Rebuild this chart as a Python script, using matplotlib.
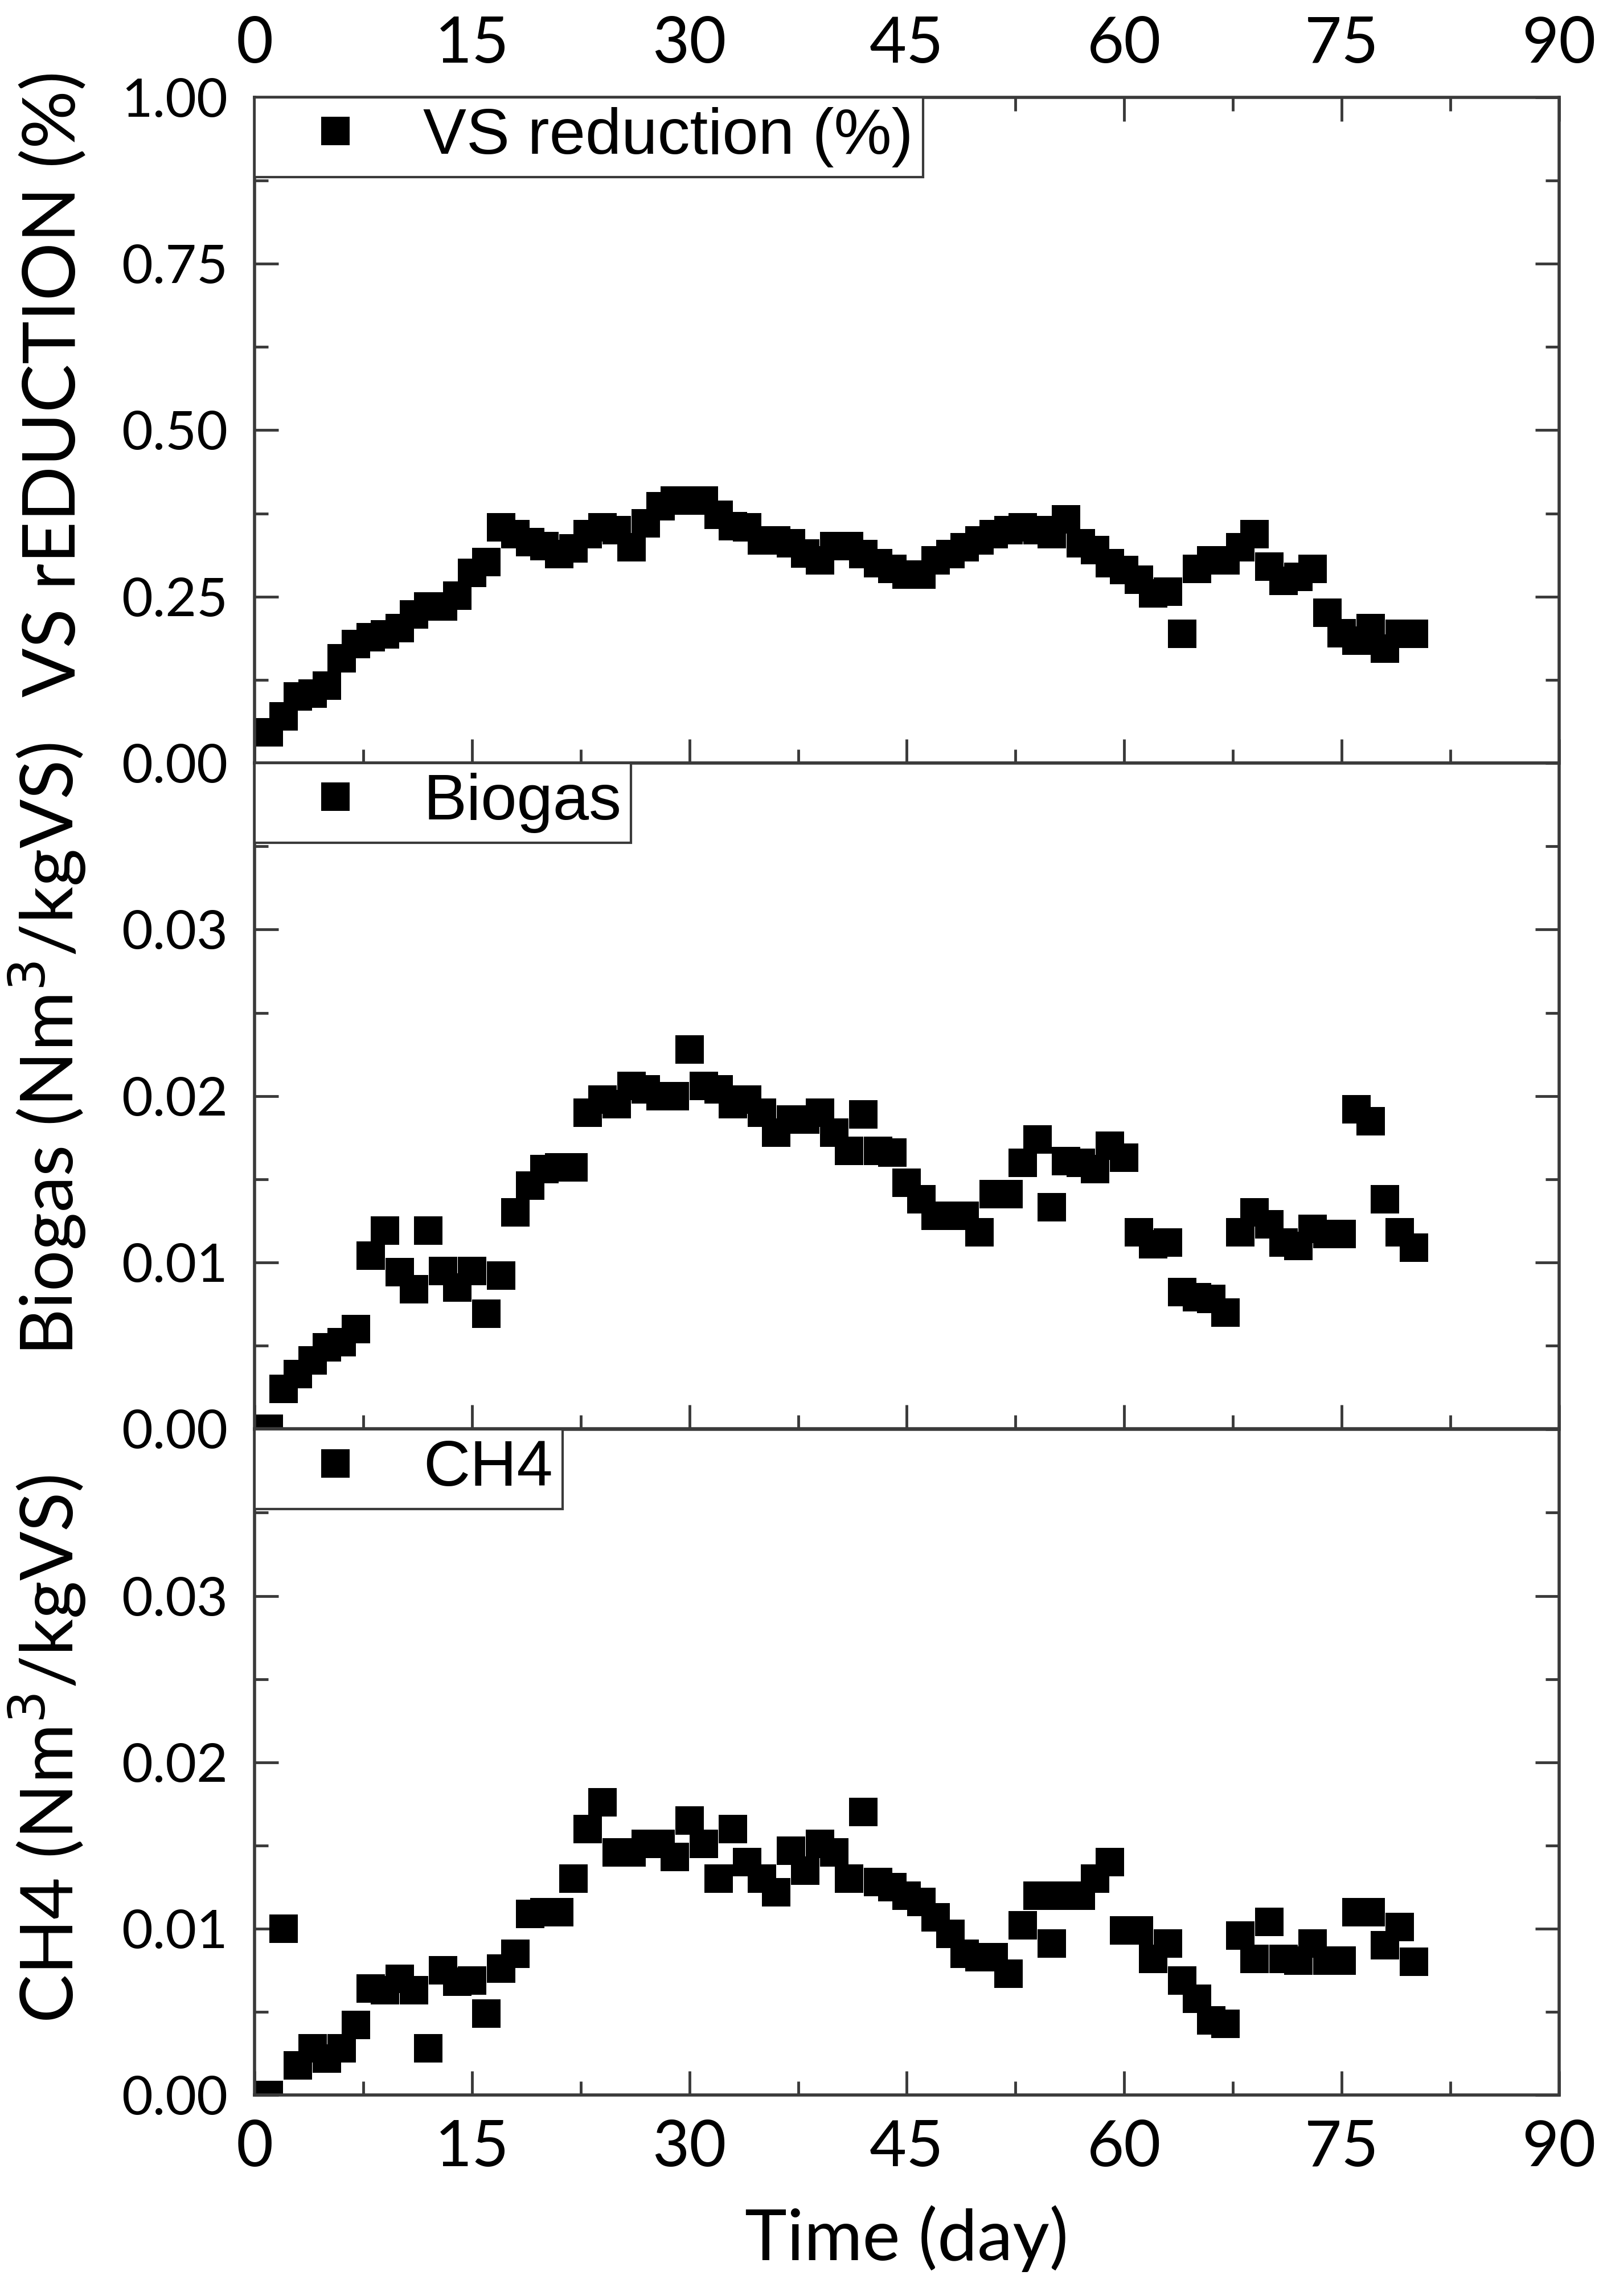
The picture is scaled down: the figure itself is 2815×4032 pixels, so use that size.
import numpy as np
import matplotlib
matplotlib.use("Agg")
import matplotlib.pyplot as plt
from matplotlib.ticker import MultipleLocator, FormatStrFormatter

# sampling days
days = list(range(1, 81))

# VS reduction (fraction)
vs_reduction = [0.046, 0.070, 0.100, 0.104, 0.116, 0.157, 0.179, 0.189, 0.193, 0.203,
                0.223, 0.235, 0.235, 0.251, 0.286, 0.302, 0.354, 0.344, 0.332, 0.326,
                0.314, 0.322, 0.344, 0.354, 0.350, 0.324, 0.360, 0.386, 0.394, 0.394,
                0.394, 0.373, 0.356, 0.354, 0.334, 0.334, 0.330, 0.315, 0.304, 0.326,
                0.326, 0.314, 0.300, 0.292, 0.283, 0.283, 0.304, 0.314, 0.324, 0.334,
                0.344, 0.350, 0.354, 0.350, 0.344, 0.366, 0.330, 0.320, 0.300, 0.290,
                0.275, 0.255, 0.257, 0.194, 0.292, 0.304, 0.304, 0.324, 0.344, 0.295,
                0.274, 0.280, 0.292, 0.226, 0.195, 0.184, 0.203, 0.172, 0.194, 0.194]

# biogas yield (Nm3/kgVS)
biogas = [0.0, 0.0024, 0.0033, 0.0041, 0.0049, 0.0052, 0.0060, 0.0104, 0.0119, 0.0094,
          0.0084, 0.0119, 0.0095, 0.0085, 0.0095, 0.0069, 0.0092, 0.0130, 0.0146, 0.0156,
          0.0157, 0.0157, 0.0190, 0.0198, 0.0195, 0.0206, 0.0204, 0.0200, 0.0200, 0.0228,
          0.0206, 0.0204, 0.0195, 0.0198, 0.0190, 0.0178, 0.0186, 0.0186, 0.0190, 0.0178,
          0.0167, 0.0189, 0.0167, 0.0166, 0.0148, 0.0138, 0.0128, 0.0128, 0.0128, 0.0118,
          0.0141, 0.0141, 0.0160, 0.0174, 0.0133, 0.0161, 0.0160, 0.0156, 0.0170, 0.0163,
          0.0118, 0.0111, 0.0112, 0.0082, 0.0079, 0.0078, 0.0070, 0.0118, 0.0130, 0.0123,
          0.0112, 0.0110, 0.0120, 0.0117, 0.0117, 0.0192, 0.0185, 0.0138, 0.0118, 0.0109]

# methane yield (Nm3/kgVS)
ch4 = [0.0, 0.0100, 0.0018, 0.0028, 0.0022, 0.0028, 0.0042, 0.0064, 0.0063, 0.0070,
       0.0063, 0.0028, 0.0075, 0.0068, 0.0069, 0.0049, 0.0076, 0.0085, 0.0109, 0.0110,
       0.0110, 0.0130, 0.0160, 0.0176, 0.0146, 0.0146, 0.0151, 0.0151, 0.0143, 0.0165,
       0.0151, 0.0130, 0.0160, 0.0140, 0.0130, 0.0122, 0.0147, 0.0135, 0.0151, 0.0146,
       0.0130, 0.0170, 0.0128, 0.0125, 0.0120, 0.0116, 0.0107, 0.0097, 0.0085, 0.0083,
       0.0083, 0.0073, 0.0102, 0.0120, 0.0091, 0.0120, 0.0120, 0.0130, 0.0140, 0.0099,
       0.0099, 0.0082, 0.0091, 0.0069, 0.0058, 0.0045, 0.0043, 0.0096, 0.0082, 0.0104,
       0.0082, 0.0081, 0.0091, 0.0081, 0.0081, 0.0110, 0.0110, 0.0090, 0.0101, 0.0080]

series = [vs_reduction, biogas, ch4]
legend_names = ['VS reduction (%)', 'Biogas', 'CH4']
y_labels = ['VS rEDUCTION (%)', 'Biogas (Nm$^3$/kgVS)', 'CH4 (Nm$^3$/kgVS)']
y_max = [1.0, 0.04, 0.04]
y_ticks = [[0.0, 0.25, 0.5, 0.75, 1.0],
           [0.0, 0.01, 0.02, 0.03],
           [0.0, 0.01, 0.02, 0.03]]
y_minor = [0.125, 0.005, 0.005]
label_y = [0.57, 0.57, 0.52]

tick_font = 'Lato'
spine_col = '#3a3a3a'

fig = plt.figure(figsize=(28.15, 40.32), dpi=100)
left, width = 0.1588, 0.8138
bottoms = [0.6677, 0.3777, 0.0875]
height = 0.2899

for i in range(3):
    ax = fig.add_axes([left, bottoms[i], width, height])
    ax.plot(days, series[i], 's', color='black', markersize=36,
            markeredgewidth=0, label=legend_names[i])
    ax.set_xlim(0, 90)
    ax.set_ylim(0, y_max[i])
    ax.xaxis.set_major_locator(MultipleLocator(15))
    ax.xaxis.set_minor_locator(MultipleLocator(7.5))
    ax.set_yticks(y_ticks[i])
    ax.yaxis.set_minor_locator(MultipleLocator(y_minor[i]))
    ax.yaxis.set_major_formatter(FormatStrFormatter('%.2f'))

    for s in ax.spines.values():
        s.set_color(spine_col)
        s.set_linewidth(4)

    ax.tick_params(which='both', direction='in', color=spine_col, width=3.5,
                   left=True, right=True, bottom=True, top=(i == 0),
                   labelleft=True, labelright=False,
                   labelbottom=(i == 2), labeltop=(i == 0))
    ax.tick_params(which='major', length=30)
    ax.tick_params(which='minor', length=17)
    ax.tick_params(axis='y', which='major', labelsize=68, pad=34)
    ax.tick_params(axis='x', which='major', labelsize=81, pad=30)
    for lab in ax.get_xticklabels() + ax.get_yticklabels():
        lab.set_fontfamily(tick_font)

    ax.set_ylabel(y_labels[i], fontsize=92, family=tick_font)
    ax.yaxis.set_label_coords(-0.128, label_y[i])

    leg = ax.legend(loc='upper left', borderaxespad=0, fancybox=False,
                    framealpha=1, edgecolor=spine_col, numpoints=1,
                    prop={'family': 'Liberation Sans', 'size': 82},
                    borderpad=0.15, handlelength=2.2, handletextpad=0.25)
    leg.get_frame().set_linewidth(3)

    if i == 2:
        ax.set_xlabel('Time (day)', fontsize=90, family=tick_font, labelpad=36)

fig.savefig('out.png', dpi=100)
